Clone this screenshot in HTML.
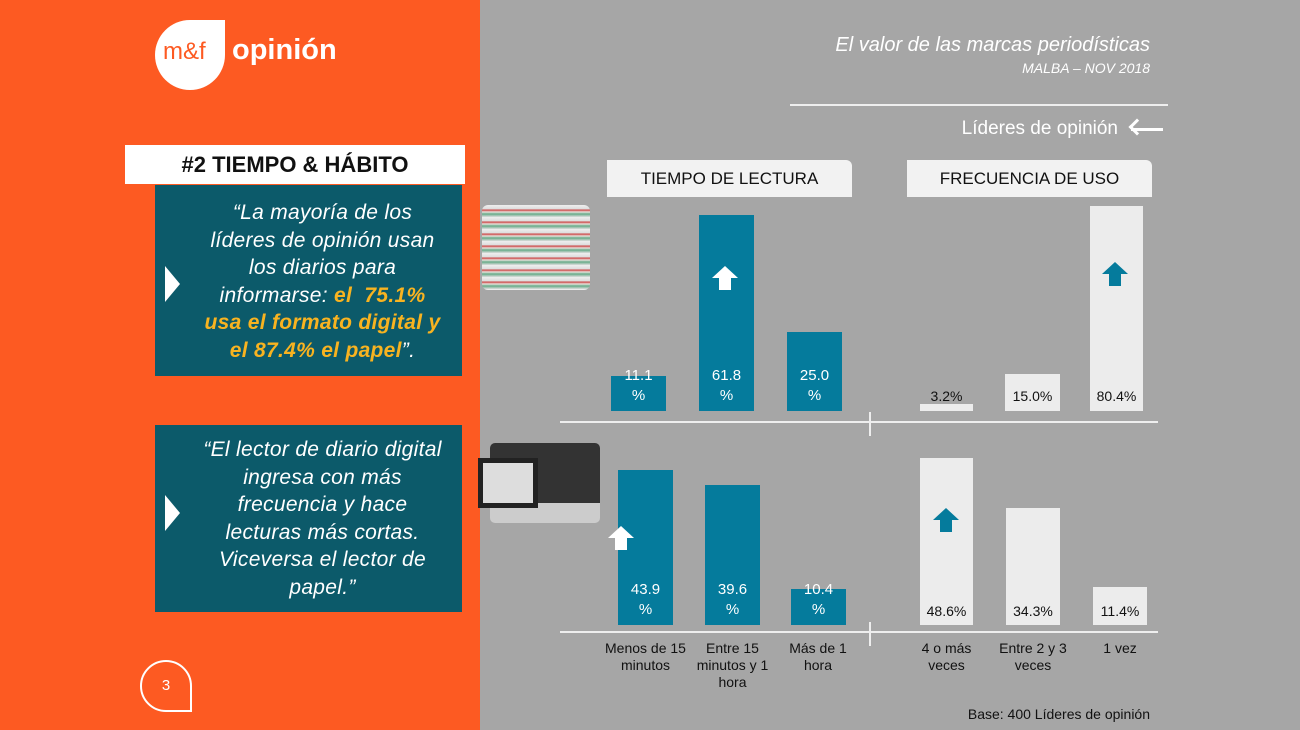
<!DOCTYPE html><html><head><meta charset="utf-8"><style>
body{margin:0;width:1300px;height:730px;position:relative;overflow:hidden;font-family:"Liberation Sans",sans-serif;background:#a6a6a6}
div{position:absolute;box-sizing:border-box}
.t{background:#057b9c}.l{background:#ececec}
.v{color:#fff;font-size:15px;text-align:center;line-height:20px}
.vd{color:#111;font-size:14px;text-align:center}
.lab{font-size:14px;text-align:center;color:#111;line-height:17px}
.tab{background:#f2f2f2;font-size:17px;text-align:center;line-height:37px;color:#111;border-radius:0 6px 0 0}
.q{color:#fff;font-size:21px;font-style:italic;text-align:center;line-height:27.5px;white-space:nowrap;letter-spacing:0.3px}
.arr{width:0;height:0;border-left:13px solid transparent;border-right:13px solid transparent}
</style></head><body>
<div style="left:0;top:0;width:480px;height:730px;background:#fd5a22"></div>
<div style="left:155px;top:20px;width:70px;height:70px;background:#fff;border-radius:50% 0 50% 50%"></div>
<div style="left:163px;top:38px;color:#fd5a22;font-size:24px">m&amp;f</div>
<div style="left:232px;top:34px;color:#fff;font-size:29px;font-weight:bold">opinión</div>
<div style="left:125px;top:145px;width:340px;height:39px;background:#fff;font-size:22px;font-weight:bold;text-align:center;line-height:39px;color:#111">#2 TIEMPO &amp; HÁBITO</div>
<div style="left:155px;top:185px;width:307px;height:191px;background:#0c5a6a"></div>
<div style="left:155px;top:425px;width:307px;height:187px;background:#0c5a6a"></div>
<div style="left:165px;top:266px;width:0;height:0;border-top:18px solid transparent;border-bottom:18px solid transparent;border-left:15px solid #fff"></div>
<div style="left:165px;top:495px;width:0;height:0;border-top:18px solid transparent;border-bottom:18px solid transparent;border-left:15px solid #fff"></div>
<div class="q" style="left:185px;top:199px;width:275px">“La mayoría de los<br>líderes de opinión usan<br>los diarios para<br>informarse: <span style="color:#f8b320;font-weight:bold">el&nbsp; 75.1%<br>usa el formato digital y<br>el 87.4% el papel</span>”.</div>
<div class="q" style="left:185px;top:436px;width:275px">“El lector de diario digital<br>ingresa con más<br>frecuencia y hace<br>lecturas más cortas.<br>Viceversa el lector de<br>papel.”</div>
<div style="left:140px;top:660px;width:52px;height:52px;border:2px solid #fff;border-radius:50% 50% 0 50%;color:#fff;font-size:15px;text-align:center;line-height:48px">3</div>
<div style="left:700px;top:34px;width:450px;text-align:right;color:#fff;font-size:20px;font-style:italic">El valor de las marcas periodísticas</div>
<div style="left:700px;top:60px;width:450px;text-align:right;color:#fff;font-size:14px;font-style:italic">MALBA – NOV 2018</div>
<div style="left:790px;top:104px;width:378px;height:2px;background:#eee"></div>
<div style="left:900px;top:118px;width:218px;text-align:right;color:#fff;font-size:19px">Líderes de opinión</div>
<div style="left:1131px;top:128px;width:32px;height:3px;background:#fff"></div>
<div style="left:1131px;top:121px;width:12px;height:12px;border-left:3px solid #fff;border-bottom:3px solid #fff;transform:rotate(45deg)"></div>
<div style="left:482px;top:205px;width:108px;height:85px;background:repeating-linear-gradient(#eee 0,#ddd 4px,#c44 5px,#e8e2dc 7px,#6a8 9px,#ddd 12px);border-radius:6px"></div>
<div style="left:490px;top:443px;width:110px;height:80px;background:linear-gradient(#333 0,#333 75%,#ccc 75%);border-radius:5px"></div>
<div style="left:478px;top:458px;width:60px;height:50px;background:#ddd;border:5px solid #222"></div>
<div class="tab" style="left:607px;top:160px;width:245px">TIEMPO DE LECTURA</div>
<div class="tab" style="left:907px;top:160px;width:245px">FRECUENCIA DE USO</div>
<div style="left:560px;top:421px;width:598px;height:2px;background:#eee"></div>
<div style="left:869px;top:412px;width:2px;height:24px;background:#eee"></div>
<div style="left:560px;top:631px;width:598px;height:2px;background:#eee"></div>
<div style="left:869px;top:622px;width:2px;height:24px;background:#eee"></div>
<div class="t" style="left:611px;top:376px;width:55px;height:35px"></div>
<div class="t" style="left:699px;top:215px;width:55px;height:196px"></div>
<div class="t" style="left:787px;top:332px;width:55px;height:79px"></div>
<div class="v" style="left:611px;top:366px;width:55px">11.1<br>%</div>
<div class="v" style="left:699px;top:366px;width:55px">61.8<br>%</div>
<div class="v" style="left:787px;top:366px;width:55px">25.0<br>%</div>
<div class="arr" style="left:712px;top:266px;border-bottom:12px solid #fff"></div><div style="left:719px;top:277px;width:12px;height:13px;background:#fff"></div>
<div class="l" style="left:920px;top:404px;width:53px;height:7px"></div>
<div class="l" style="left:1005px;top:374px;width:55px;height:37px"></div>
<div class="l" style="left:1090px;top:206px;width:53px;height:205px"></div>
<div class="vd" style="left:910px;top:388px;width:73px">3.2%</div>
<div class="vd" style="left:1000px;top:388px;width:65px">15.0%</div>
<div class="vd" style="left:1085px;top:388px;width:63px">80.4%</div>
<div class="arr" style="left:1102px;top:262px;border-bottom:12px solid #057b9c"></div><div style="left:1109px;top:273px;width:12px;height:13px;background:#057b9c"></div>
<div class="t" style="left:618px;top:470px;width:55px;height:155px"></div>
<div class="t" style="left:705px;top:485px;width:55px;height:140px"></div>
<div class="t" style="left:791px;top:589px;width:55px;height:36px"></div>
<div class="v" style="left:618px;top:580px;width:55px">43.9<br>%</div>
<div class="v" style="left:705px;top:580px;width:55px">39.6<br>%</div>
<div class="v" style="left:791px;top:580px;width:55px">10.4<br>%</div>
<div class="arr" style="left:608px;top:526px;border-bottom:12px solid #fff"></div><div style="left:615px;top:537px;width:12px;height:13px;background:#fff"></div>
<div class="l" style="left:920px;top:458px;width:53px;height:167px"></div>
<div class="l" style="left:1006px;top:508px;width:54px;height:117px"></div>
<div class="l" style="left:1093px;top:587px;width:54px;height:38px"></div>
<div class="vd" style="left:910px;top:603px;width:73px">48.6%</div>
<div class="vd" style="left:1000px;top:603px;width:66px">34.3%</div>
<div class="vd" style="left:1088px;top:603px;width:64px">11.4%</div>
<div class="arr" style="left:933px;top:508px;border-bottom:12px solid #057b9c"></div><div style="left:940px;top:519px;width:12px;height:13px;background:#057b9c"></div>
<div class="lab" style="left:598px;top:640px;width:95px">Menos de 15 minutos</div>
<div class="lab" style="left:685px;top:640px;width:95px">Entre 15 minutos y 1 hora</div>
<div class="lab" style="left:778px;top:640px;width:80px">Más de 1 hora</div>
<div class="lab" style="left:905px;top:640px;width:83px">4 o más veces</div>
<div class="lab" style="left:990px;top:640px;width:86px">Entre 2 y 3 veces</div>
<div class="lab" style="left:1085px;top:640px;width:70px">1 vez</div>
<div style="left:930px;top:706px;width:220px;text-align:right;font-size:14px;color:#111">Base: 400 Líderes de opinión</div>
</body></html>
